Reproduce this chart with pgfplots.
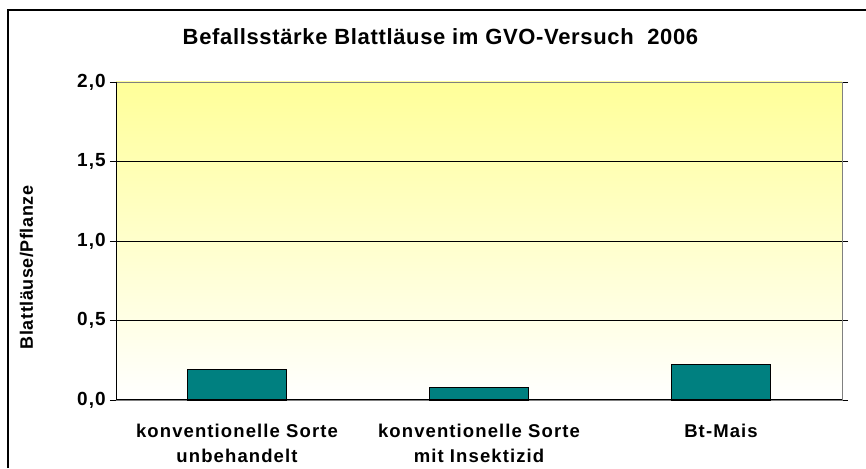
\documentclass[border=0pt]{standalone}
\usepackage{pgfplots}
\pgfplotsset{compat=1.18}
\usepackage{fontspec}
\setmainfont{Liberation Sans}
\newfontfamily\titlefont{Liberation Sans}[LetterSpace=3]
\newfontfamily\labfont{Liberation Sans}[LetterSpace=6]
\newfontfamily\ylabfont{Liberation Sans}[LetterSpace=3]
\newfontfamily\tickfont{Liberation Sans}[LetterSpace=6]
\definecolor{barteal}{RGB}{0,128,128}
\definecolor{bgyellow}{RGB}{255,255,153}
\begin{document}
\begin{tikzpicture}[x=1pt,y=1pt]
\useasboundingbox (0,0) rectangle (866,468);
% outer frame (top and left edges visible)
\draw[black,line width=1.2pt] (8,0) -- (8,458) -- (866,458);
\node[anchor=base,font={\titlefont\bfseries\fontsize{22pt}{26pt}\selectfont}] at (440.5,423) {Befallsstärke Blattläuse im GVO-Versuch\ \ 2006};
\node[rotate=90,font={\ylabfont\bfseries\fontsize{18pt}{20pt}\selectfont}] at (26.5,200.5) {Blattläuse/Pflanze};
\begin{axis}[
  at={(116pt,68pt)}, anchor=south west,
  scale only axis, width=726pt, height=318pt,
  xmin=-0.5, xmax=2.5, ymin=0, ymax=2,
  axis background/.style={top color=bgyellow, bottom color=white},
  axis line style={draw=gray, line width=0.8pt},
  ybar, bar width=99pt,
  xtick={0,1,2},
  xticklabels={{konventionelle Sorte\\unbehandelt},{konventionelle Sorte\\mit Insektizid},{Bt-Mais}},
  x tick label style={align=center, font={\labfont\bfseries\fontsize{18.5pt}{25pt}\selectfont}, anchor=north, inner sep=0pt, yshift=-18pt},
  major x tick style={draw=none},
  extra x ticks={-0.5,0.5,1.5,2.5},
  extra x tick labels={},
  extra x tick style={major tick length=7pt, tick align=outside, tick style={draw=black, line width=0.8pt}},
  ytick={0,0.5,1,1.5,2},
  yticklabels={{0,0},{0,5},{1,0},{1,5},{2,0}},
  y tick label style={font={\tickfont\bfseries\fontsize{19pt}{22pt}\selectfont}, anchor=east, inner sep=0pt, xshift=-4pt},
  major y tick style={draw=black, line width=0.8pt},
  major tick length=6pt, tick align=outside,
  extra y ticks={0.5,1,1.5},
  extra y tick labels={},
  extra y tick style={ymajorgrids=true, major tick length=0pt, grid style={black, line width=0.8pt}},
  clip=false,
]
\addplot[fill=barteal, draw=black, line width=1.2pt] coordinates {(0,0.19) (1,0.08) (2,0.225)};
\draw[black, line width=1pt] (rel axis cs:0,1) -- (rel axis cs:0,0) -- (rel axis cs:1,0);
\end{axis}
\end{tikzpicture}
\end{document}
